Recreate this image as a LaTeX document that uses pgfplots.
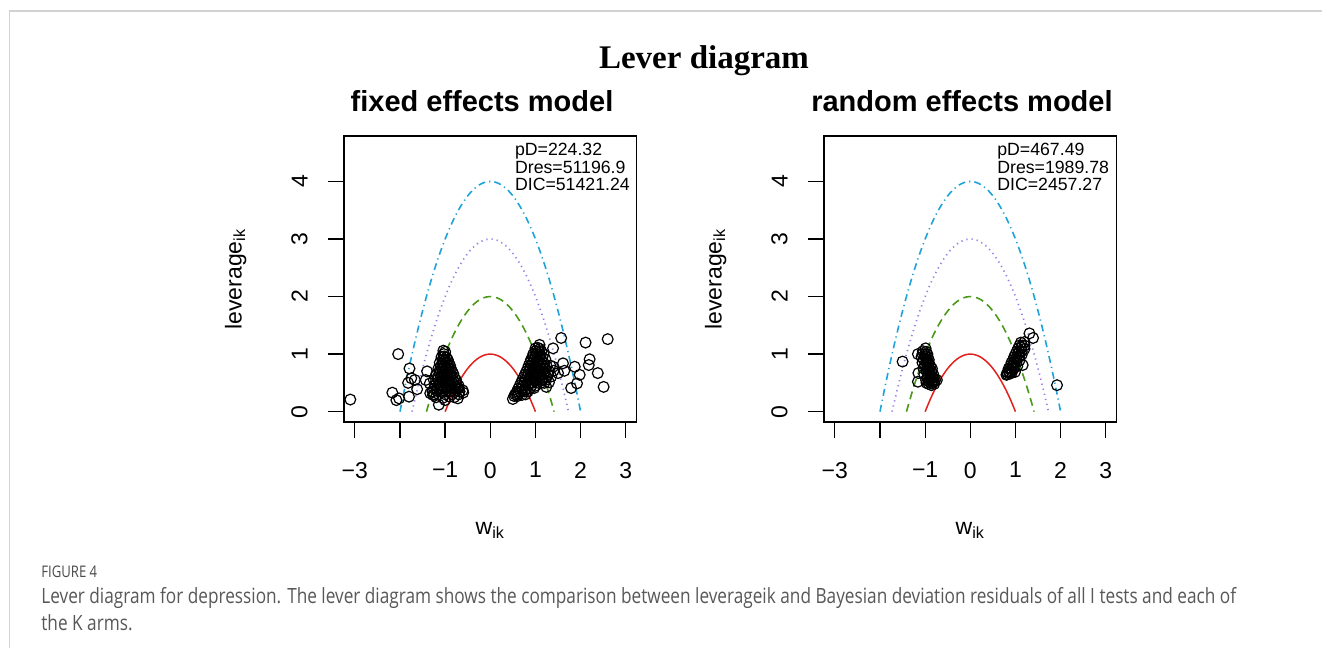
\documentclass[border=0pt]{standalone}
\usepackage{pgfplots}
\pgfplotsset{compat=1.18}
\usepackage{pgfplotstable}
\usepackage{fontspec}
\setmainfont{Liberation Sans}
\newfontfamily\serifbold{Liberation Serif}
\newfontfamily\capfont[FakeStretch=0.82]{Open Sans}

\definecolor{rred}{HTML}{E3211C}
\definecolor{ggreen}{HTML}{4A9A1C}
\definecolor{ppurple}{HTML}{9B7BE8}
\definecolor{bblue}{HTML}{1FA3D9}
\definecolor{framegray}{HTML}{D2D2D2}
\definecolor{capdark}{HTML}{4A4A4A}
\definecolor{capgray}{HTML}{585858}

% parabola contours (values typed)
\pgfplotstableread{
x y
-1.0 0.00
-0.9 0.19
-0.8 0.36
-0.7 0.51
-0.6 0.64
-0.5 0.75
-0.4 0.84
-0.3 0.91
-0.2 0.96
-0.1 0.99
0.0 1.00
0.1 0.99
0.2 0.96
0.3 0.91
0.4 0.84
0.5 0.75
0.6 0.64
0.7 0.51
0.8 0.36
0.9 0.19
1.0 0.00
}\redc
\pgfplotstableread{
x y
-1.414 0.00
-1.3 0.31
-1.2 0.56
-1.1 0.79
-1.0 1.00
-0.9 1.19
-0.8 1.36
-0.7 1.51
-0.6 1.64
-0.5 1.75
-0.4 1.84
-0.3 1.91
-0.2 1.96
-0.1 1.99
0.0 2.00
0.1 1.99
0.2 1.96
0.3 1.91
0.4 1.84
0.5 1.75
0.6 1.64
0.7 1.51
0.8 1.36
0.9 1.19
1.0 1.00
1.1 0.79
1.2 0.56
1.3 0.31
1.414 0.00
}\greenc
\pgfplotstableread{
x y
-1.732 0.00
-1.6 0.44
-1.5 0.75
-1.4 1.04
-1.3 1.31
-1.2 1.56
-1.1 1.79
-1.0 2.00
-0.9 2.19
-0.8 2.36
-0.7 2.51
-0.6 2.64
-0.5 2.75
-0.4 2.84
-0.3 2.91
-0.2 2.96
-0.1 2.99
0.0 3.00
0.1 2.99
0.2 2.96
0.3 2.91
0.4 2.84
0.5 2.75
0.6 2.64
0.7 2.51
0.8 2.36
0.9 2.19
1.0 2.00
1.1 1.79
1.2 1.56
1.3 1.31
1.4 1.04
1.5 0.75
1.6 0.44
1.732 0.00
}\purpc
\pgfplotstableread{
x y
-2.0 0.00
-1.9 0.39
-1.8 0.76
-1.7 1.11
-1.6 1.44
-1.5 1.75
-1.4 2.04
-1.3 2.31
-1.2 2.56
-1.1 2.79
-1.0 3.00
-0.9 3.19
-0.8 3.36
-0.7 3.51
-0.6 3.64
-0.5 3.75
-0.4 3.84
-0.3 3.91
-0.2 3.96
-0.1 3.99
0.0 4.00
0.1 3.99
0.2 3.96
0.3 3.91
0.4 3.84
0.5 3.75
0.6 3.64
0.7 3.51
0.8 3.36
0.9 3.19
1.0 3.00
1.1 2.79
1.2 2.56
1.3 2.31
1.4 2.04
1.5 1.75
1.6 1.44
1.7 1.11
1.8 0.76
1.9 0.39
2.0 0.00
}\bluec

% fixed effects model points
\pgfplotstableread{
x y
-3.10 0.21
-2.04 1.00
-2.17 0.33
-2.08 0.20
-2.02 0.23
-1.79 0.75
-1.75 0.58
-1.67 0.55
-1.82 0.50
-1.62 0.39
-1.80 0.26
-1.40 0.70
-1.43 0.55
-1.34 0.49
-1.33 0.32
-1.27 0.29
-1.14 0.12
-0.72 0.23
-0.61 0.37
-0.72 0.41
-1.00 0.20
-1.04 1.06
-1.00 1.04
-1.08 0.95
-1.02 0.96
-0.97 0.94
-1.12 0.85
-1.05 0.86
-0.98 0.84
-0.92 0.85
-1.15 0.75
-1.08 0.76
-1.00 0.74
-0.93 0.75
-0.87 0.74
-1.20 0.65
-1.12 0.66
-1.04 0.64
-0.96 0.65
-0.88 0.64
-0.82 0.66
-1.25 0.55
-1.16 0.56
-1.07 0.54
-0.98 0.55
-0.90 0.56
-0.82 0.54
-0.76 0.55
-1.22 0.45
-1.13 0.46
-1.04 0.44
-0.95 0.45
-0.86 0.46
-0.78 0.44
-0.70 0.45
-1.28 0.35
-1.18 0.36
-1.08 0.34
-0.98 0.35
-0.88 0.36
-0.78 0.34
-0.68 0.35
-0.60 0.33
-1.20 0.25
-1.05 0.24
-0.90 0.26
-0.80 0.25
-1.03 1.00
-1.06 0.90
-1.00 0.90
-0.94 0.90
-1.09 0.80
-1.02 0.80
-0.95 0.80
-0.89 0.80
-1.13 0.70
-1.06 0.70
-0.99 0.70
-0.92 0.70
-0.85 0.70
-1.16 0.60
-1.09 0.60
-1.02 0.60
-0.95 0.60
-0.88 0.60
-0.80 0.60
-1.19 0.50
-1.12 0.50
-1.05 0.50
-0.98 0.50
-0.91 0.50
-0.84 0.50
-0.76 0.50
-1.25 0.40
-1.18 0.40
-1.10 0.40
-1.02 0.40
-0.94 0.40
-0.86 0.40
-0.78 0.40
-0.70 0.40
-1.24 0.30
-1.14 0.30
-1.00 0.30
-0.85 0.30
-0.70 0.30
0.50 0.22
0.58 0.32
1.09 1.16
1.57 1.28
1.39 1.10
2.11 1.20
2.60 1.26
2.20 0.91
2.18 0.81
1.87 0.78
1.98 0.64
2.38 0.67
2.51 0.43
1.79 0.41
1.92 0.49
1.61 0.84
1.64 0.71
1.50 0.67
1.39 0.78
1.24 0.43
1.16 0.55
1.00 1.10
1.05 1.11
1.10 1.09
0.95 1.00
1.02 1.01
1.10 0.99
1.18 1.00
0.90 0.90
0.97 0.91
1.05 0.89
1.13 0.90
1.22 0.91
0.85 0.80
0.92 0.81
1.00 0.79
1.08 0.80
1.16 0.81
1.25 0.79
1.33 0.80
0.80 0.70
0.87 0.71
0.95 0.69
1.03 0.70
1.12 0.71
1.20 0.69
1.30 0.70
1.40 0.71
0.74 0.60
0.82 0.61
0.90 0.59
0.98 0.60
1.06 0.61
1.15 0.59
1.25 0.60
1.35 0.61
0.68 0.50
0.76 0.51
0.85 0.49
0.93 0.50
1.02 0.51
1.10 0.49
1.20 0.50
1.30 0.51
0.62 0.40
0.70 0.41
0.79 0.39
0.88 0.40
0.97 0.41
0.55 0.30
0.62 0.31
0.70 0.29
0.78 0.30
1.00 1.05
1.07 1.05
1.13 1.05
0.94 0.95
1.01 0.95
1.08 0.95
1.15 0.95
0.88 0.85
0.95 0.85
1.02 0.85
1.10 0.85
1.18 0.85
0.83 0.75
0.90 0.75
0.98 0.75
1.06 0.75
1.14 0.75
1.22 0.75
0.77 0.65
0.85 0.65
0.93 0.65
1.01 0.65
1.10 0.65
1.19 0.65
1.28 0.65
0.71 0.55
0.79 0.55
0.87 0.55
0.96 0.55
1.04 0.55
1.13 0.55
1.22 0.55
0.65 0.45
0.73 0.45
0.82 0.45
0.91 0.45
1.00 0.45
0.59 0.35
0.67 0.35
0.75 0.35
0.83 0.35
0.53 0.27
0.60 0.27
}\fe

% random effects model points
\pgfplotstableread{
x y
-1.50 0.87
-1.16 1.00
-0.99 1.10
-1.16 0.52
-0.86 0.46
-0.74 0.55
-0.97 0.50
-1.15 0.67
-1.05 1.05
-0.98 1.04
-1.08 0.95
-1.00 0.96
-0.94 0.94
-1.06 0.85
-0.98 0.86
-0.92 0.84
-1.04 0.75
-0.96 0.76
-0.90 0.74
-0.85 0.75
-1.02 0.65
-0.94 0.66
-0.88 0.64
-0.82 0.65
-0.98 0.55
-0.90 0.56
-0.84 0.54
-0.78 0.55
-0.92 0.48
-0.86 0.49
-0.80 0.48
-1.06 1.00
-1.00 1.00
-0.95 1.00
-1.03 0.90
-0.97 0.90
-0.92 0.90
-1.00 0.80
-0.94 0.80
-0.89 0.80
-0.97 0.70
-0.91 0.70
-0.86 0.70
-0.94 0.60
-0.88 0.60
-0.83 0.60
-0.91 0.52
-0.85 0.52
-0.80 0.52
1.31 1.36
1.39 1.28
0.80 0.64
0.87 0.67
1.16 0.81
1.92 0.46
1.12 1.20
1.20 1.21
1.06 1.10
1.13 1.11
1.20 1.09
1.00 1.00
1.07 1.01
1.14 0.99
0.95 0.90
1.02 0.91
1.09 0.89
0.90 0.80
0.97 0.81
1.04 0.79
0.85 0.70
0.92 0.71
0.99 0.69
0.82 0.65
0.88 0.66
1.09 1.15
1.15 1.15
1.20 1.15
1.03 1.05
1.09 1.05
1.14 1.05
0.97 0.95
1.03 0.95
1.08 0.95
0.91 0.85
0.97 0.85
1.02 0.85
0.85 0.75
0.91 0.75
0.96 0.75
0.82 0.68
0.87 0.68
0.92 0.68
}\re

\pgfplotsset{
  lev/.style={
    scale only axis, width=146.3pt, height=143pt, anchor=south west,
    xmin=-3.24, xmax=3.24, ymin=-0.18, ymax=4.79,
    axis line style={line width=0.65pt},
    tick style={black, line width=0.65pt},
    tick align=outside, major tick length=8pt,
    xtick pos=left, ytick pos=left,
    xtick={-3,-1,0,1,2,3}, xticklabels={−3,−1,0,1,2,3},
    extra x ticks={-2}, extra x tick labels={},
    extra x tick style={tick style={black, line width=0.65pt}},
    ytick={0,1,2,3,4}, yticklabels={0,1,2,3,4},
    ticklabel style={font=\fontsize{11.5}{12}\selectfont, inner sep=0pt},
    xticklabel style={anchor=north},
    yticklabel style={rotate=90, anchor=south},
    xticklabel shift=11.8pt,
    yticklabel shift=10pt,
    xlabel={w\textsubscript{ik}}, ylabel={leverage\textsubscript{ik}},
    label style={font=\fontsize{11.5}{12}\selectfont, inner sep=0pt},
    xlabel style={at={(axis description cs:0.5,-0.395)}, anchor=base},
    ylabel style={at={(axis description cs:-0.350,0.5)}, anchor=base},
    pts/.style={only marks, mark=o, mark size=2.7pt, mark options={line width=0.6pt, black}},
  },
  redc/.style={rred, line width=0.75pt, smooth},
  greenc/.style={ggreen, line width=0.8pt, dash pattern=on 4pt off 2.5pt, smooth},
  purpc/.style={ppurple, line width=0.85pt, dash pattern=on 0.6pt off 2pt, smooth},
  bluec/.style={bblue, line width=0.8pt, dash pattern=on 3.5pt off 2pt on 0.6pt off 2pt, smooth},
}

\begin{document}
\begin{tikzpicture}
\useasboundingbox (0,0) rectangle (661pt,324pt);
\fill[white] (0,0) rectangle (661pt,324pt);
\draw[framegray, line width=0.75pt] (4.65pt,0) -- (4.65pt,318.5pt) -- (661pt,318.5pt);

\node[anchor=base, inner sep=0pt, font=\serifbold\bfseries\fontsize{16.5}{18}\selectfont] at (352pt,289.5pt) {Lever diagram};
\node[anchor=base, inner sep=0pt, font=\bfseries\fontsize{14.5}{16}\selectfont] at (241pt,268.2pt) {fixed effects model};
\node[anchor=base, inner sep=0pt, font=\bfseries\fontsize{14.5}{16}\selectfont] at (481pt,268.2pt) {random effects model};

\begin{axis}[lev, at={(172pt,113pt)}]
\addplot[pts] table {\fe};
\addplot[redc] table {\redc};
\addplot[greenc] table {\greenc};
\addplot[purpc] table {\purpc};
\addplot[bluec] table {\bluec};
\node[anchor=base west, inner sep=0pt, font=\fontsize{8.85}{9}\selectfont] at (axis cs:0.54,4.45) {pD=224.32};
\node[anchor=base west, inner sep=0pt, font=\fontsize{8.85}{9}\selectfont] at (axis cs:0.54,4.14) {Dres=51196.9};
\node[anchor=base west, inner sep=0pt, font=\fontsize{8.85}{9}\selectfont] at (axis cs:0.54,3.84) {DIC=51421.24};
\end{axis}

\begin{axis}[lev, at={(412pt,113pt)}]
\addplot[pts] table {\re};
\addplot[redc] table {\redc};
\addplot[greenc] table {\greenc};
\addplot[purpc] table {\purpc};
\addplot[bluec] table {\bluec};
\node[anchor=base west, inner sep=0pt, font=\fontsize{8.85}{9}\selectfont] at (axis cs:0.59,4.45) {pD=467.49};
\node[anchor=base west, inner sep=0pt, font=\fontsize{8.85}{9}\selectfont] at (axis cs:0.59,4.14) {Dres=1989.78};
\node[anchor=base west, inner sep=0pt, font=\fontsize{8.85}{9}\selectfont] at (axis cs:0.59,3.84) {DIC=2457.27};
\end{axis}

\node[anchor=base west, inner sep=0pt, text=capdark, font=\capfont\fontsize{8}{9}\selectfont] at (20.5pt,35pt) {FIGURE 4};
\node[anchor=base west, inner sep=0pt, text=capgray, font=\capfont\fontsize{10.5}{12}\selectfont] at (20.5pt,22.5pt) {Lever diagram for depression. The lever diagram shows the comparison between leverageik and Bayesian deviation residuals of all I tests and each of};
\node[anchor=base west, inner sep=0pt, text=capgray, font=\capfont\fontsize{10.5}{12}\selectfont] at (20.5pt,9pt) {the K arms.};
\end{tikzpicture}
\end{document}
